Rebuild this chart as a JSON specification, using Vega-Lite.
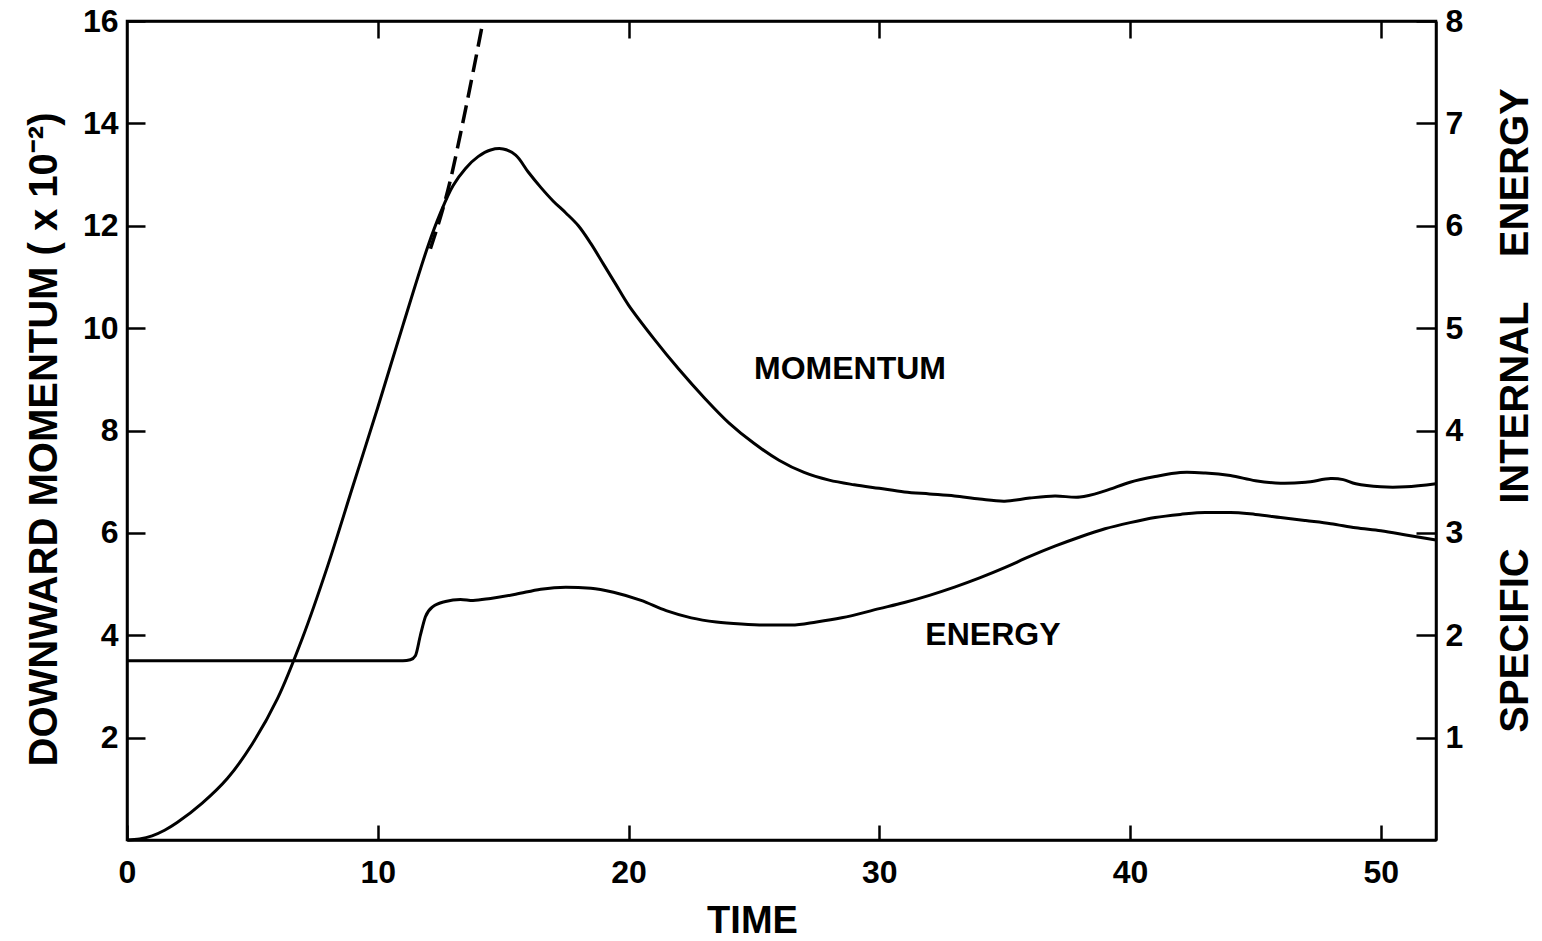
{
  "$schema": "https://vega.github.io/schema/vega-lite/v6.json",
  "width": 1309,
  "height": 819,
  "autosize": {"type": "none"},
  "padding": {"left": 127, "top": 21, "right": 106, "bottom": 101},
  "background": "white",
  "config": {
    "view": {"stroke": "black", "strokeWidth": 2.5},
    "font": "Liberation Sans",
    "axis": {
      "domainColor": "black", "domainWidth": 2.5,
      "tickColor": "black", "tickWidth": 2.5,
      "labelColor": "black", "titleColor": "black",
      "labelFont": "Liberation Sans", "labelFontWeight": "bold", "labelFontSize": 32,
      "titleFont": "Liberation Sans", "titleFontWeight": "bold",
      "grid": false, "labelFlush": false, "labelOverlap": false
    }
  },
  "datasets": {
    "momentum": [
      {"time": 0, "value": 0}, {"time": 0.5, "value": 0.02}, {"time": 1, "value": 0.08},
      {"time": 1.5, "value": 0.19}, {"time": 2, "value": 0.34},
      {"time": 3, "value": 0.72}, {"time": 4, "value": 1.2}, {"time": 5, "value": 1.88},
      {"time": 6, "value": 2.76}, {"time": 7, "value": 3.95}, {"time": 8, "value": 5.35},
      {"time": 9, "value": 6.9}, {"time": 10, "value": 8.45}, {"time": 11, "value": 10.05},
      {"time": 12, "value": 11.6}, {"time": 12.5, "value": 12.25}, {"time": 13, "value": 12.78},
      {"time": 13.5, "value": 13.12}, {"time": 14, "value": 13.35}, {"time": 14.5, "value": 13.48},
      {"time": 15, "value": 13.5}, {"time": 15.5, "value": 13.38}, {"time": 16, "value": 13.05},
      {"time": 16.5, "value": 12.75}, {"time": 17, "value": 12.48}, {"time": 17.5, "value": 12.25},
      {"time": 18, "value": 12.0}, {"time": 18.5, "value": 11.65}, {"time": 19, "value": 11.25},
      {"time": 19.5, "value": 10.85}, {"time": 20, "value": 10.45}, {"time": 21, "value": 9.8},
      {"time": 22, "value": 9.2}, {"time": 23, "value": 8.65}, {"time": 24, "value": 8.15},
      {"time": 25, "value": 7.75}, {"time": 26, "value": 7.42}, {"time": 27, "value": 7.18},
      {"time": 28, "value": 7.03}, {"time": 29, "value": 6.94}, {"time": 30, "value": 6.87},
      {"time": 31, "value": 6.8}, {"time": 32, "value": 6.76}, {"time": 33, "value": 6.72},
      {"time": 34, "value": 6.66}, {"time": 35, "value": 6.62}, {"time": 36, "value": 6.68},
      {"time": 37, "value": 6.72}, {"time": 38, "value": 6.7}, {"time": 39, "value": 6.82},
      {"time": 40, "value": 6.99}, {"time": 41, "value": 7.1}, {"time": 42, "value": 7.18},
      {"time": 43, "value": 7.17}, {"time": 44, "value": 7.12}, {"time": 45, "value": 7.02},
      {"time": 46, "value": 6.97}, {"time": 47, "value": 6.99}, {"time": 48, "value": 7.06},
      {"time": 48.5, "value": 7.04}, {"time": 49, "value": 6.96}, {"time": 50, "value": 6.9},
      {"time": 51, "value": 6.9}, {"time": 52.2, "value": 6.96}
    ],
    "extrapolation": [
      {"time": 12.1, "value": 11.55}, {"time": 12.9, "value": 12.9}, {"time": 13.3, "value": 13.8},
      {"time": 13.8, "value": 15.0}, {"time": 14.2, "value": 16.0}
    ],
    "energy": [
      {"time": 0, "energy": 1.75}, {"time": 11, "energy": 1.75}, {"time": 11.3, "energy": 1.76},
      {"time": 11.5, "energy": 1.8}, {"time": 11.7, "energy": 2.0}, {"time": 11.9, "energy": 2.18},
      {"time": 12.2, "energy": 2.28}, {"time": 12.7, "energy": 2.33}, {"time": 13.3, "energy": 2.35},
      {"time": 13.8, "energy": 2.34}, {"time": 14.5, "energy": 2.36}, {"time": 15.5, "energy": 2.4},
      {"time": 16.5, "energy": 2.45}, {"time": 17.5, "energy": 2.47}, {"time": 18.5, "energy": 2.46},
      {"time": 19.4, "energy": 2.42}, {"time": 20.5, "energy": 2.34}, {"time": 21.5, "energy": 2.24},
      {"time": 22.5, "energy": 2.17}, {"time": 23.5, "energy": 2.13}, {"time": 24.5, "energy": 2.11},
      {"time": 25.5, "energy": 2.1}, {"time": 26.5, "energy": 2.1}, {"time": 27.5, "energy": 2.13},
      {"time": 28.5, "energy": 2.17}, {"time": 30, "energy": 2.26}, {"time": 31, "energy": 2.32},
      {"time": 32, "energy": 2.39}, {"time": 33, "energy": 2.47}, {"time": 34, "energy": 2.56},
      {"time": 35, "energy": 2.66}, {"time": 36, "energy": 2.77}, {"time": 37, "energy": 2.87},
      {"time": 38, "energy": 2.96}, {"time": 39, "energy": 3.04}, {"time": 40, "energy": 3.1},
      {"time": 41, "energy": 3.15}, {"time": 42, "energy": 3.18}, {"time": 43, "energy": 3.2},
      {"time": 44, "energy": 3.2}, {"time": 45, "energy": 3.18}, {"time": 46, "energy": 3.15},
      {"time": 47, "energy": 3.12}, {"time": 48, "energy": 3.09}, {"time": 49, "energy": 3.05},
      {"time": 50, "energy": 3.02}, {"time": 51, "energy": 2.98}, {"time": 52.2, "energy": 2.93}
    ],
    "labels": [
      {"label": "MOMENTUM", "time": 28.83, "value": 9.01},
      {"label": "ENERGY", "time": 34.53, "value": 3.8}
    ]
  },
  "resolve": {"scale": {"y": "independent"}, "axis": {"x": "independent"}},
  "layer": [
    {
      "layer": [
        {
          "data": {"name": "momentum"},
          "mark": {"type": "line", "color": "black", "strokeWidth": 3, "interpolate": "catmull-rom"},
          "encoding": {
            "x": {
              "field": "time", "type": "quantitative",
              "scale": {"domain": [0, 52.2], "nice": false, "zero": false},
              "axis": {
                "orient": "bottom", "values": [0, 10, 20, 30, 40, 50],
                "tickSize": -15, "labelPadding": 32,
                "title": "TIME", "titleFontSize": 38,
                "titleX": 625, "titleY": 92, "titleAlign": "center", "titleBaseline": "alphabetic"
              }
            },
            "y": {
              "field": "value", "type": "quantitative",
              "scale": {"domain": [0, 16], "nice": false},
              "axis": {
                "orient": "left", "values": [2, 4, 6, 8, 10, 12, 14, 16],
                "tickSize": -18, "labelPadding": 27,
                "title": "DOWNWARD\u00a0MOMENTUM ( x 10⁻²)", "titleFontSize": 40,
                "titleAngle": 270, "titleX": -71, "titleY": 418,
                "titleAlign": "center", "titleBaseline": "alphabetic"
              }
            }
          }
        },
        {
          "data": {"name": "extrapolation"},
          "mark": {"type": "line", "color": "black", "strokeWidth": 3.5, "strokeDash": [18, 8], "interpolate": "monotone"},
          "encoding": {
            "x": {"field": "time", "type": "quantitative"},
            "y": {"field": "value", "type": "quantitative"}
          }
        },
        {
          "data": {"name": "labels"},
          "mark": {"type": "text", "font": "Liberation Sans", "fontWeight": "bold", "fontSize": 32, "baseline": "alphabetic", "align": "center", "color": "black"},
          "encoding": {
            "x": {"field": "time", "type": "quantitative"},
            "y": {"field": "value", "type": "quantitative"},
            "text": {"field": "label"}
          }
        }
      ]
    },
    {
      "data": {"name": "energy"},
      "mark": {"type": "line", "color": "black", "strokeWidth": 3, "interpolate": "monotone"},
      "encoding": {
        "x": {
          "field": "time", "type": "quantitative",
          "axis": {"orient": "top", "labels": false, "title": null, "values": [10, 20, 30, 40, 50], "tickSize": -17}
        },
        "y": {
          "field": "energy", "type": "quantitative",
          "scale": {"domain": [0, 8], "nice": false},
          "axis": {
            "orient": "right", "values": [1, 2, 3, 4, 5, 6, 7, 8],
            "tickSize": -20, "labelPadding": 29,
            "title": "SPECIFIC\u00a0\u00a0\u00a0\u00a0INTERNAL\u00a0\u00a0\u00a0\u00a0ENERGY", "titleFontSize": 40,
            "titleAngle": 270, "titleX": 91, "titleY": 389,
            "titleAlign": "center", "titleBaseline": "alphabetic"
          }
        }
      }
    }
  ]
}
